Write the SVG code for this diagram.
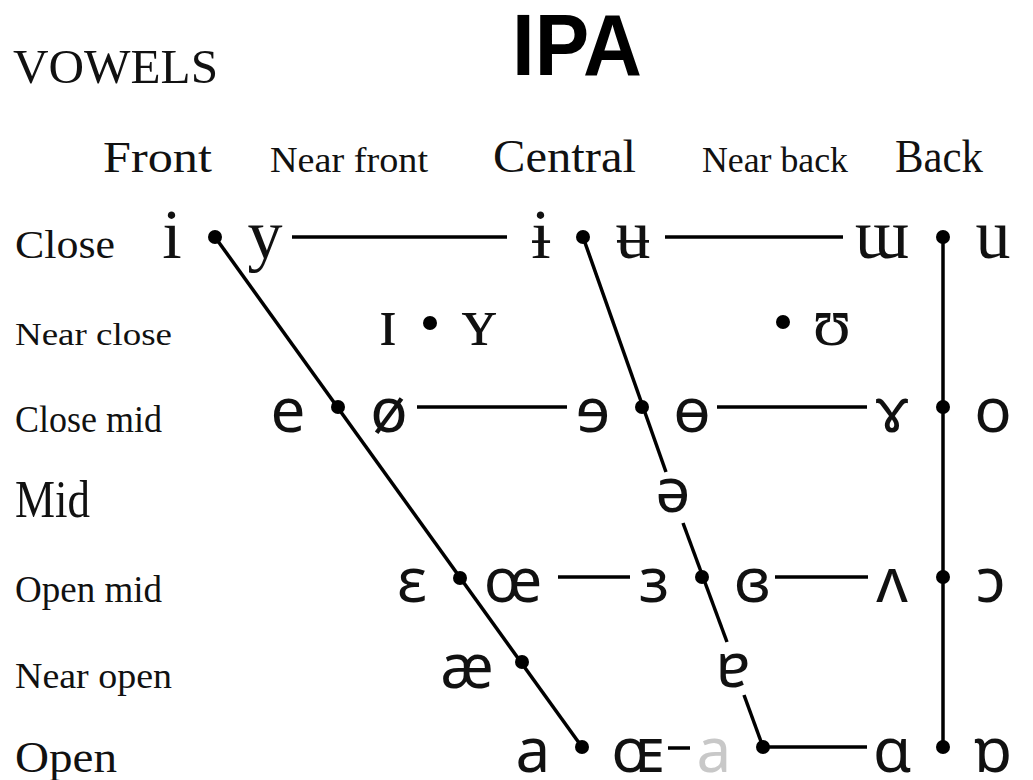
<svg xmlns="http://www.w3.org/2000/svg" width="1033" height="780" viewBox="0 0 1033 780">
<style>
.lbl{font-family:"Liberation Serif","DejaVu Serif",serif;fill:#111}
.vs{font-family:"Liberation Serif","DejaVu Serif",serif;font-size:70px;fill:#111;text-anchor:middle}
.vn{font-family:"Noto Sans","DejaVu Sans",sans-serif;font-size:62px;fill:#111;text-anchor:middle}
.ln{stroke:#000;stroke-width:3.5;fill:none;stroke-linecap:butt}
.dot{fill:#000}
</style>
<rect width="1033" height="780" fill="#fff"/>
<text id="title" x="512" y="75" font-family="Liberation Sans, Arial, sans-serif" font-weight="bold" font-size="88" textLength="130" lengthAdjust="spacingAndGlyphs">IPA</text>
<text id="vowels-label" class="lbl" x="13" y="83" font-size="48" textLength="205" lengthAdjust="spacingAndGlyphs">VOWELS</text>
<g id="column-labels">
<text class="lbl" x="103" y="172" font-size="44" textLength="109" lengthAdjust="spacingAndGlyphs">Front</text>
<text class="lbl" x="270" y="172" font-size="36" textLength="158" lengthAdjust="spacingAndGlyphs">Near front</text>
<text class="lbl" x="493" y="172" font-size="46" textLength="143" lengthAdjust="spacingAndGlyphs">Central</text>
<text class="lbl" x="702" y="172" font-size="36" textLength="146" lengthAdjust="spacingAndGlyphs">Near back</text>
<text class="lbl" x="895" y="172" font-size="46" textLength="88" lengthAdjust="spacingAndGlyphs">Back</text>
</g>
<g id="row-labels">
<text class="lbl" x="15" y="258" font-size="40" textLength="100" lengthAdjust="spacingAndGlyphs">Close</text>
<text class="lbl" x="15" y="345" font-size="32" textLength="157" lengthAdjust="spacingAndGlyphs">Near close</text>
<text class="lbl" x="15" y="432" font-size="37" textLength="147" lengthAdjust="spacingAndGlyphs">Close mid</text>
<text class="lbl" x="15" y="517" font-size="52" textLength="75" lengthAdjust="spacingAndGlyphs">Mid</text>
<text class="lbl" x="15" y="602" font-size="37" textLength="147" lengthAdjust="spacingAndGlyphs">Open mid</text>
<text class="lbl" x="15" y="688" font-size="35" textLength="157" lengthAdjust="spacingAndGlyphs">Near open</text>
<text class="lbl" x="15" y="772" font-size="44" textLength="102" lengthAdjust="spacingAndGlyphs">Open</text>
</g>
<g id="connectors">
<line class="ln" x1="215" y1="237" x2="582" y2="747"/>
<line class="ln" x1="583" y1="237" x2="666" y2="472"/>
<line class="ln" x1="683" y1="523" x2="727" y2="642"/>
<line class="ln" x1="744" y1="695" x2="763" y2="747"/>
<line class="ln" x1="943" y1="237" x2="943" y2="747"/>
<line class="ln" x1="292" y1="237" x2="507" y2="237"/>
<line class="ln" x1="665" y1="237" x2="843" y2="237"/>
<line class="ln" x1="417" y1="407" x2="567" y2="407"/>
<line class="ln" x1="717" y1="407" x2="867" y2="407"/>
<line class="ln" x1="558" y1="577" x2="630" y2="577"/>
<line class="ln" x1="775" y1="577" x2="868" y2="577"/>
<line class="ln" x1="668" y1="748" x2="690" y2="748"/>
<line class="ln" x1="763" y1="747" x2="867" y2="747"/>
</g>
<g id="dots">
<circle class="dot" cx="215" cy="237" r="7"/>
<circle class="dot" cx="583" cy="237" r="7"/>
<circle class="dot" cx="943" cy="237" r="7"/>
<circle class="dot" cx="430" cy="323" r="7"/>
<circle class="dot" cx="783" cy="322" r="7"/>
<circle class="dot" cx="338" cy="407" r="7"/>
<circle class="dot" cx="642" cy="407" r="7"/>
<circle class="dot" cx="943" cy="407" r="7"/>
<circle class="dot" cx="460" cy="578" r="7"/>
<circle class="dot" cx="702" cy="577" r="7"/>
<circle class="dot" cx="943" cy="577" r="7"/>
<circle class="dot" cx="522" cy="662" r="7"/>
<circle class="dot" cx="582" cy="747" r="7"/>
<circle class="dot" cx="763" cy="747" r="7"/>
<circle class="dot" cx="943" cy="747" r="7"/>
</g>
<g id="row-close">
<g id="v-i"><text class="vs" x="172" y="258">i</text></g>
<g id="v-y"><text class="vs" x="265" y="258">y</text></g>
<g id="v-barred-i"><text class="vs" x="541" y="258">ɨ</text></g>
<g id="v-barred-u"><text class="vs" x="633" y="258">ʉ</text></g>
<g id="v-turned-m"><text class="vs" x="882" y="258">ɯ</text></g>
<g id="v-u"><text class="vs" x="993" y="258">u</text></g>
</g>
<g id="row-near-close">
<g id="v-small-i"><text class="vs" x="388" y="345">ɪ</text></g>
<g id="v-small-y"><text class="vs" x="479" y="345">ʏ</text></g>
<g id="v-upsilon"><text class="vs" x="832" y="345">ʊ</text></g>
</g>
<g id="row-close-mid">
<g id="v-e"><text class="vn" x="288" y="432">e</text></g>
<g id="v-o-slash"><text class="vn" x="389" y="432">ø</text></g>
<g id="v-rev-e"><text class="vn" x="593" y="432">ɘ</text></g>
<g id="v-barred-o"><text class="vn" x="692" y="432">ɵ</text></g>
<g id="v-rams-horn"><text class="vn" x="892" y="432">ɤ</text></g>
<g id="v-o"><text class="vn" x="993" y="432">o</text></g>
</g>
<g id="row-mid">
<g id="v-schwa"><text class="vn" x="673" y="512">ə</text></g>
</g>
<g id="row-open-mid">
<g id="v-epsilon"><text class="vn" x="412" y="602">ɛ</text></g>
<g id="v-oe"><text class="vn" x="513" y="602">œ</text></g>
<g id="v-rev-epsilon"><text class="vn" x="654" y="602">ɜ</text></g>
<g id="v-closed-rev-epsilon"><text class="vn" x="752" y="602">ɞ</text></g>
<g id="v-turned-v"><text class="vn" x="892" y="602">ʌ</text></g>
<g id="v-open-o"><text class="vn" x="991" y="602">ɔ</text></g>
</g>
<g id="row-near-open">
<g id="v-ae"><text class="vn" x="467" y="688">æ</text></g>
<g id="v-turned-a"><text class="vn" x="733" y="687">ɐ</text></g>
</g>
<g id="row-open">
<g id="v-a"><text class="vn" x="533" y="772">a</text></g>
<g id="v-small-oe"><text class="vn" x="638" y="772">ɶ</text></g>
<g id="v-a-central"><text class="vn" x="714" y="772" fill="#c8c8c8" style="fill:#c8c8c8">a</text></g>
<g id="v-script-a"><text class="vn" x="892" y="772">ɑ</text></g>
<g id="v-turned-script-a"><text class="vn" x="993" y="772">ɒ</text></g>
</g>
</svg>
